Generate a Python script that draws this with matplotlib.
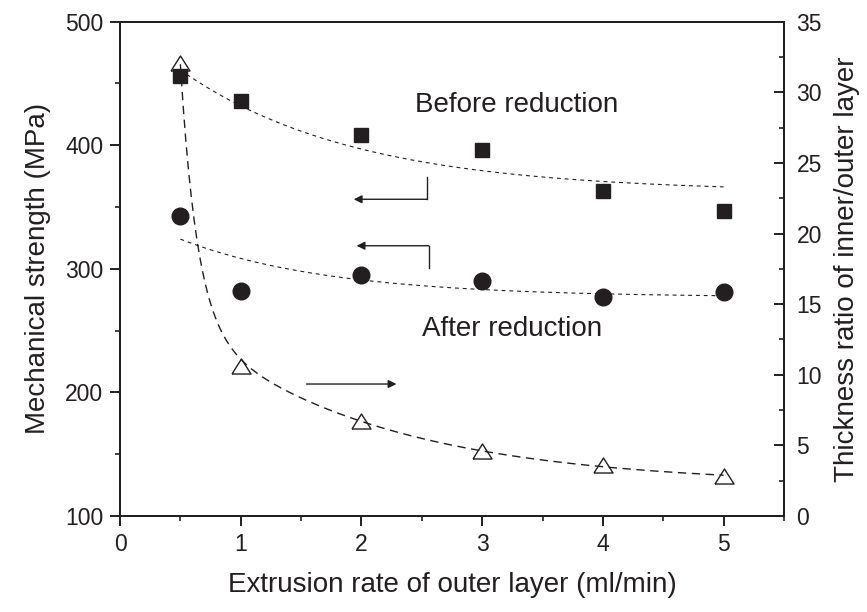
import numpy as np
import matplotlib.pyplot as plt
from matplotlib.ticker import MultipleLocator

plt.rcParams['font.family'] = ['Liberation Sans', 'DejaVu Sans']

rate = [0.5, 1, 2, 3, 4, 5]
before_strength = [456, 436, 408, 396, 363, 347]
after_strength = [343, 282, 295, 290, 277, 281]
thickness_ratio = [32.1, 10.6, 6.7, 4.6, 3.6, 2.8]

# exponential decay fits: y0 + A*exp(-x/t)
before_fit = (362, 140, 1.44)
after_fit = (277, 70.4, 1.24)
# two-term decay for the thickness ratio: y0, A1, t1, A2, t2
ratio_fit = (2.2, 15.7, 1.6, 668, 0.139)

ink = '#231f20'

fig = plt.figure(figsize=(8.67, 6.12), dpi=100)
ax = fig.add_axes([120/867, 1-516/612, 664/867, 494.3/612])
ax2 = ax.twinx()

xs = np.linspace(0.5, 5, 200)
y0, a, t = before_fit
ax.plot(xs, y0 + a*np.exp(-xs/t), color=ink, lw=0.8, dashes=(3.5, 3.5))
y0, a, t = after_fit
ax.plot(xs, y0 + a*np.exp(-xs/t), color=ink, lw=0.8, dashes=(3.5, 3.5))
ax.plot(rate, before_strength, 's', color=ink, ms=10.5, ls='none')
ax.plot(rate, after_strength, 'o', color=ink, ms=12, ls='none')

y0, a1, t1, a2, t2 = ratio_fit
ax2.plot(xs, y0 + a1*np.exp(-xs/t1) + a2*np.exp(-xs/t2), color=ink, lw=1.0, dashes=(6, 4))
tri = [(-1, -0.79), (1, -0.79), (0, 0.79), (-1, -0.79)]
ax2.plot(rate, thickness_ratio, ls='none', marker=tri, ms=13.7,
         mfc='none', mec=ink, mew=1.0)

# text labels and arrows
ax.text(2.44, 427, 'Before reduction', fontsize=20, color=ink)
ax.text(2.50, 245.7, 'After reduction', fontsize=20, color=ink)
arr = dict(arrowstyle='-|>', color=ink, lw=1.0, mutation_scale=12, shrinkA=0, shrinkB=0)
ax.annotate('', xy=(1.936, 356.3), xytext=(2.545, 356.3), arrowprops=arr)
ax.plot([2.545, 2.545], [356.3, 374.6], color=ink, lw=1.0)
ax.annotate('', xy=(1.96, 318.7), xytext=(2.557, 318.7), arrowprops=arr)
ax.plot([2.557, 2.557], [318.7, 300.5], color=ink, lw=1.0)
ax.annotate('', xy=(2.29, 206.8), xytext=(1.545, 206.8), arrowprops=arr)

ax.set_xlim(0, 5.5)
ax.set_ylim(100, 500)
ax2.set_ylim(0, 35)
ax.set_xticks([0, 1, 2, 3, 4, 5])
ax.xaxis.set_minor_locator(MultipleLocator(0.5))
ax.set_yticks([100, 200, 300, 400, 500])
ax.yaxis.set_minor_locator(MultipleLocator(50))
ax2.set_yticks([0, 5, 10, 15, 20, 25, 30, 35])
ax2.yaxis.set_minor_locator(MultipleLocator(2.5))

for a_ in (ax, ax2):
    for s in a_.spines.values():
        s.set_linewidth(1.4)
        s.set_color(ink)
ax.tick_params(axis='both', which='major', direction='out', length=7, width=1.4,
               labelsize=16.5, colors=ink, pad=5)
ax.tick_params(axis='both', which='minor', direction='out', length=3.5, width=1.2, colors=ink)
ax.tick_params(axis='x', top=False, which='both')
ax.tick_params(axis='y', right=False, which='both')
ax2.tick_params(axis='y', which='major', direction='in', length=7, width=1.4,
                labelsize=16.5, colors=ink, pad=9)
ax2.tick_params(axis='y', which='minor', direction='in', length=3.5, width=1.2, colors=ink)

ax.set_xlabel('Extrusion rate of outer layer (ml/min)', fontsize=20, color=ink, labelpad=12)
ax.set_ylabel('Mechanical strength (MPa)', fontsize=20, color=ink, labelpad=10)
ax2.set_ylabel('Thickness ratio of inner/outer layer', fontsize=20, color=ink, labelpad=9)

fig.savefig('out.png', dpi=100)
